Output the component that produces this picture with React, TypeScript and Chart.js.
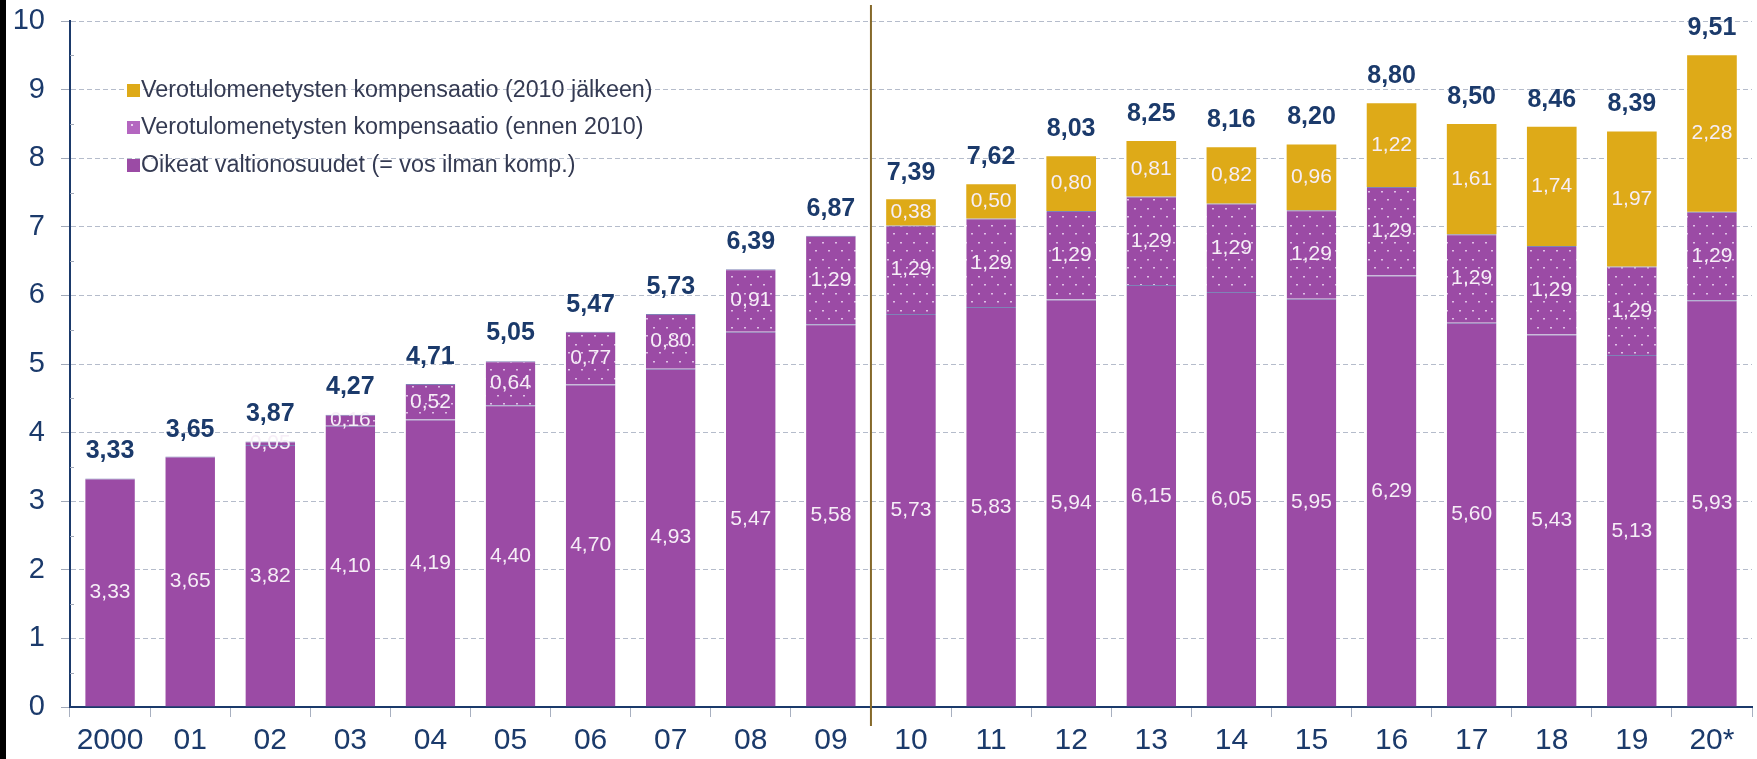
import React, { useEffect, useRef } from 'react';
import { Chart, registerables } from 'chart.js';

Chart.register(...registerables);

const categories = ['2000', '01', '02', '03', '04', '05', '06', '07', '08', '09', '10', '11', '12', '13', '14', '15', '16', '17', '18', '19', '20*'];
const oikeat = [3.33, 3.65, 3.82, 4.10, 4.19, 4.40, 4.70, 4.93, 5.47, 5.58, 5.73, 5.83, 5.94, 6.15, 6.05, 5.95, 6.29, 5.60, 5.43, 5.13, 5.93];
const ennen2010 = [null, null, 0.05, 0.16, 0.52, 0.64, 0.77, 0.80, 0.91, 1.29, 1.29, 1.29, 1.29, 1.29, 1.29, 1.29, 1.29, 1.29, 1.29, 1.29, 1.29];
const jalkeen2010 = [null, null, null, null, null, null, null, null, null, null, 0.38, 0.50, 0.80, 0.81, 0.82, 0.96, 1.22, 1.61, 1.74, 1.97, 2.28];
const totals = [3.33, 3.65, 3.87, 4.27, 4.71, 5.05, 5.47, 5.73, 6.39, 6.87, 7.39, 7.62, 8.03, 8.25, 8.16, 8.20, 8.80, 8.50, 8.46, 8.39, 9.51];
const legendLabels = [
  'Verotulomenetysten kompensaatio (2010 jälkeen)',
  'Verotulomenetysten kompensaatio (ennen 2010)',
  'Oikeat valtionosuudet (= vos ilman komp.)',
];

const PURPLE = '#9B4BA5';
const GOLD = '#DEAA18';
const NAVY = '#1B3A6B';
const FONT = '"Liberation Sans", Arial, Helvetica, sans-serif';

const fmt = (v: number) => v.toFixed(2).replace('.', ',');

function makeDots(): CanvasPattern | string {
  const c = document.createElement('canvas');
  c.width = 13;
  c.height = 17;
  const g = c.getContext('2d');
  if (!g) return PURPLE;
  g.fillStyle = PURPLE;
  g.fillRect(0, 0, 13, 17);
  g.fillStyle = 'rgba(232,205,238,0.9)';
  g.fillRect(3, 4, 2, 1.5);
  g.fillRect(9, 12, 2, 1.5);
  return g.createPattern(c, 'repeat') || PURPLE;
}

export default function App() {
  const ref = useRef<HTMLCanvasElement | null>(null);

  useEffect(() => {
    document.body.style.margin = '0';
    const canvas = ref.current;
    if (!canvas) return;
    const dots = makeDots();

    const overlay = {
      id: 'overlay',
      afterDatasetsDraw(chart: any) {
        const ctx = chart.ctx;
        const xs = chart.scales.x;
        const ys = chart.scales.y;
        const area = chart.chartArea;
        ctx.save();
        // minor ticks inside the axis
        ctx.strokeStyle = '#a0a8b8';
        ctx.lineWidth = 1;
        for (let v = 0.5; v < 10; v += 1) {
          const py = Math.round(ys.getPixelForValue(v)) + 0.5;
          ctx.beginPath();
          ctx.moveTo(area.left, py);
          ctx.lineTo(area.left + 4, py);
          ctx.stroke();
        }
        // separator line between 09 and 10
        const sx = (xs.getPixelForValue(9) + xs.getPixelForValue(10)) / 2;
        ctx.strokeStyle = '#85692A';
        ctx.lineWidth = 2;
        ctx.beginPath();
        ctx.moveTo(sx, 5);
        ctx.lineTo(sx, 726);
        ctx.stroke();

        // inside labels
        ctx.font = `21px ${FONT}`;
        ctx.textAlign = 'center';
        ctx.textBaseline = 'middle';
        ctx.fillStyle = '#F6EEF7';
        chart.data.datasets.forEach((ds: any, di: number) => {
          const meta = chart.getDatasetMeta(di);
          meta.data.forEach((el: any, i: number) => {
            const v = ds.data[i];
            if (v == null) return;
            const p = el.getProps(['x', 'y', 'base'], true);
            ctx.fillText(fmt(v), p.x, (p.y + p.base) / 2);
          });
        });

        // totals
        ctx.font = `bold 25px ${FONT}`;
        ctx.fillStyle = NAVY;
        totals.forEach((t, i) => {
          ctx.fillText(fmt(t), xs.getPixelForValue(i), ys.getPixelForValue(t) - 27);
        });

        // legend
        const fills = [GOLD, '#B466C0', PURPLE];
        const rows = [90, 127, 165];
        ctx.font = `23.3px ${FONT}`;
        ctx.textAlign = 'left';
        legendLabels.forEach((lab, i) => {
          ctx.fillStyle = fills[i];
          ctx.fillRect(127, rows[i] - 6, 13, 13);
          if (i === 1) {
            ctx.fillStyle = 'rgba(240,220,245,0.9)';
            ctx.fillRect(131, rows[i] - 3, 2, 2);
          }
          ctx.fillStyle = '#343a52';
          ctx.fillText(lab, 141, rows[i] + 1);
        });
        ctx.restore();
      },
    };

    const chart = new Chart(canvas, {
      type: 'bar',
      data: {
        labels: categories,
        datasets: [
          {
            label: legendLabels[2],
            data: oikeat,
            backgroundColor: PURPLE,
            borderColor: 'rgba(95,100,165,0.8)',
            borderWidth: { top: 1, left: 0, right: 0, bottom: 0 },
            borderSkipped: false,
          },
          {
            label: legendLabels[1],
            data: ennen2010 as any,
            backgroundColor: dots as any,
            borderColor: 'rgba(95,100,165,0.8)',
            borderWidth: { top: 1, left: 0, right: 0, bottom: 0 },
            borderSkipped: false,
          },
          {
            label: legendLabels[0],
            data: jalkeen2010 as any,
            backgroundColor: GOLD,
            borderWidth: 0,
          },
        ],
      },
      options: {
        animation: false,
        responsive: true,
        maintainAspectRatio: false,
        datasets: { bar: { categoryPercentage: 1, barPercentage: 0.62 } },
        layout: { padding: { left: 8, right: 5, top: 21, bottom: 0 } },
        plugins: { legend: { display: false }, tooltip: { enabled: false } },
        scales: {
          x: {
            stacked: true,
            ticks: { font: { size: 30, family: FONT }, color: NAVY, padding: 6, maxRotation: 0, autoSkip: false },
            grid: { drawOnChartArea: false, drawTicks: true, tickLength: 10, tickColor: '#a8b0c0', offset: true },
            border: { display: true, color: NAVY, width: 2 },
            afterFit: (s: any) => { s.height = 52; s.paddingLeft = 0; s.paddingRight = 0; },
          },
          y: {
            stacked: true,
            min: 0,
            max: 10,
            ticks: {
              stepSize: 0.5,
              autoSkip: false,
              font: { size: 29, family: FONT },
              color: NAVY,
              padding: 16,
              callback: (v: any) => (Number(v) % 1 === 0 ? String(v) : ''),
            },
            grid: {
              color: (c: any) => (c.tick && c.tick.value % 1 === 0 ? '#b5bccb' : 'rgba(0,0,0,0)'),
              tickColor: (c: any) => (c.tick && c.tick.value % 1 === 0 ? '#a0a8b8' : 'rgba(0,0,0,0)'),
              tickLength: 9,
              lineWidth: 1,
              tickBorderDash: [],
            },
            border: { display: true, color: NAVY, width: 2, dash: [5, 3] },
            afterFit: (s: any) => { s.width = 62; s.paddingTop = 0; s.paddingBottom = 0; },
          },
        },
      },
      plugins: [overlay],
    });
    return () => chart.destroy();
  }, []);

  return (
    <div style={{ position: 'relative', width: 1757, height: 759, background: '#fff' }}>
      <canvas ref={ref} />
      <div style={{ position: 'absolute', left: 0, top: 0, width: 6, height: 759, background: '#000' }} />
    </div>
  );
}
